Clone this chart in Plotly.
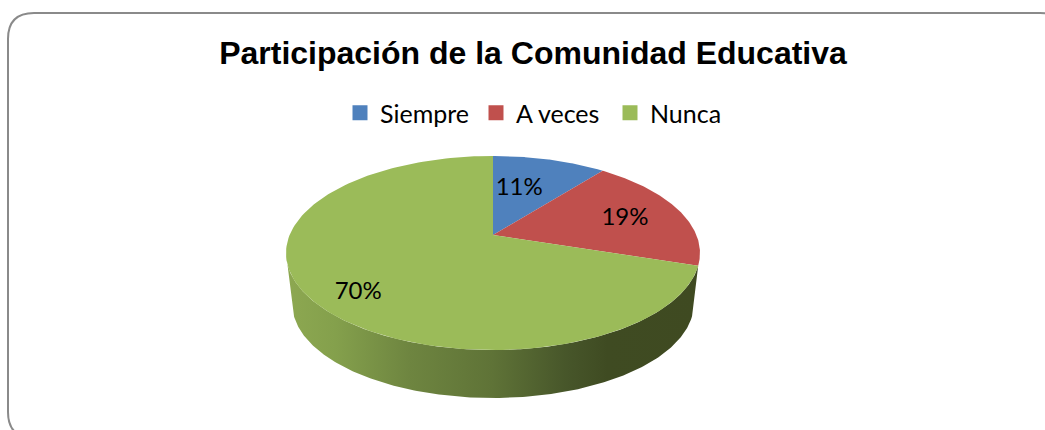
import numpy as np
import plotly.graph_objects as go

TITLE = "Participación de la Comunidad Educativa"
categories = ["Siempre", "A veces", "Nunca"]
values = [10.6, 19.4, 70]
colors = ["#4F81BD", "#C0504D", "#9BBB59"]

W, H = 1045, 430
CX, CY, RX, RY, K = 493, 235, 203.4, 93.7, 0.1855
DEPTH_DY, BOTTOM_SCALE = 51.4, 0.97
# label anchors inside the disk: (radius fraction, clockwise angle from top)
label_anchor = [(0.59, 14), (0.70, 73.8), (0.803, 228)]
LABEL_DY = 2
legend_left = [340, 476, 610]


def project(theta_deg, r=1.0, dy=0.0, s=1.0):
    t = np.radians(theta_deg)
    u, v = r * np.sin(t), r * np.cos(t)
    d = 1 + K * v
    return CX + s * RX * u / d, CY + dy - s * RY * v / d


total = sum(values)
edges = np.cumsum([0] + values) / total * 360
fig = go.Figure()

# side wall, from the last visible slice boundary round the front to the rim's left extreme
left_theta = 360 - np.degrees(np.arccos(-K))
t_wall = np.linspace(edges[2], left_theta, 220)
xt, yt = project(t_wall)
xb, yb = project(t_wall[::-1], dy=DEPTH_DY, s=BOTTOM_SCALE)
fig.add_trace(go.Scatter(
    x=np.concatenate([xt, xb]), y=np.concatenate([yt, yb]),
    mode="lines", fill="toself", line=dict(width=0), hoverinfo="skip", showlegend=False,
    fillgradient=dict(type="horizontal", colorscale=[
        [0.0, "#8DA851"], [0.12, "#84A04C"], [0.3, "#6E8540"], [0.5, "#5F7337"],
        [0.68, "#47562A"], [0.78, "#3F4B22"], [1.0, "#3F4A21"]]),
))

# top faces
for i, (name, col) in enumerate(zip(categories, colors)):
    th = np.linspace(edges[i], edges[i + 1], 160)
    xs, ys = project(th)
    fig.add_trace(go.Scatter(
        x=np.concatenate([[CX], xs, [CX]]), y=np.concatenate([[CY], ys, [CY]]),
        mode="lines", fill="toself", fillcolor=col, line=dict(width=0),
        name=name, hoverinfo="name", showlegend=False))

# legend entries, one positioned legend per category
legend_ids = ["legend", "legend2", "legend3"]
for name, col, lid in zip(categories, colors, legend_ids):
    fig.add_trace(go.Scatter(
        x=[None], y=[None], mode="markers", name=name, legend=lid,
        marker=dict(symbol="square", size=15, color=col)))

# percentage labels
lx, ly = [], []
for r, a in label_anchor:
    px, py = project(a, r=r, dy=LABEL_DY)
    lx.append(px)
    ly.append(py)
fig.add_trace(go.Scatter(
    x=lx, y=ly, mode="text", text=[f"{round(v / total * 100)}%" for v in values],
    textposition="middle center", textfont=dict(family="Lato", size=24, color="#000000"),
    hoverinfo="skip", showlegend=False))

R = 26
x0, x1, y0, y1 = 8, 1066, 13, 438
frame = (f"M {x0+R} {y0} L {x1-R} {y0} Q {x1} {y0} {x1} {y0+R} L {x1} {y1-R} "
         f"Q {x1} {y1} {x1-R} {y1} L {x0+R} {y1} Q {x0} {y1} {x0} {y1-R} "
         f"L {x0} {y0+R} Q {x0} {y0} {x0+R} {y0} Z")

legend_layout = {
    lid: dict(orientation="h", x=left / W, xanchor="left", y=1 - 113 / H, yanchor="middle",
              font=dict(family="Lato", size=25, color="#000000"), bgcolor="rgba(0,0,0,0)",
              itemwidth=30, itemclick=False, itemdoubleclick=False)
    for lid, left in zip(legend_ids, legend_left)
}

fig.update_layout(
    width=W, height=H, autosize=False,
    margin=dict(l=0, r=0, t=0, b=0),
    paper_bgcolor="white", plot_bgcolor="white",
    xaxis=dict(range=[0, W], visible=False, fixedrange=True),
    yaxis=dict(range=[H, 0], visible=False, fixedrange=True),
    title=dict(text=f"<b>{TITLE}</b>", x=533 / W, xanchor="center", y=1 - 53 / H, yanchor="middle",
               font=dict(family="Liberation Sans", size=32, color="#000000")),
    shapes=[dict(type="path", path=frame, xref="x", yref="y",
                 line=dict(color="#8A8A8A", width=2), fillcolor="rgba(0,0,0,0)", layer="below")],
    **legend_layout,
)
fig.write_html("out.html", config=dict(displayModeBar=False),
               post_script="document.body.style.margin='0';document.documentElement.style.overflow='hidden';")
